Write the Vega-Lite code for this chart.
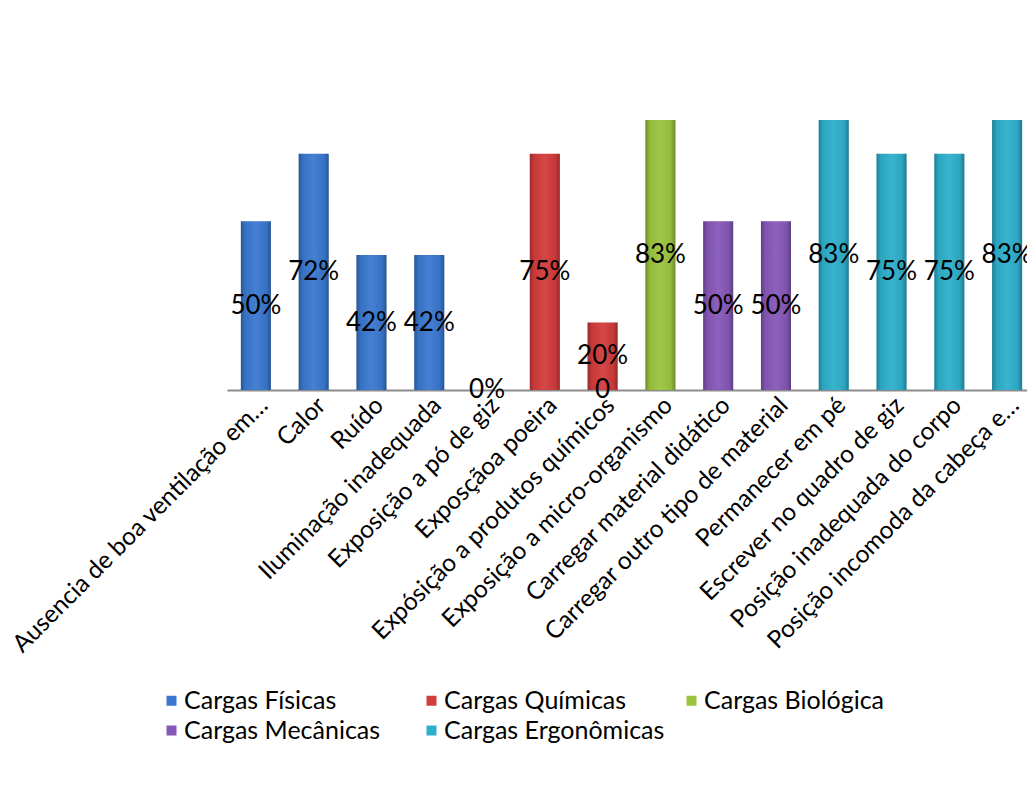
{
  "$schema": "https://vega.github.io/schema/vega-lite/v6.json",
  "autosize": {"type": "none"},
  "width": 800,
  "height": 270,
  "padding": {"left": 227, "top": 120, "right": 0, "bottom": 410},
  "background": "white",
  "config": {"view": {"stroke": null}, "font": "Lato"},
  "data": {
    "values": [
      {"item": "Ausencia de boa ventilação em…", "grupo": "Cargas Físicas", "valor": 5, "rotulo": "50%"},
      {"item": "Calor", "grupo": "Cargas Físicas", "valor": 7, "rotulo": "72%"},
      {"item": "Ruído", "grupo": "Cargas Físicas", "valor": 4, "rotulo": "42%"},
      {"item": "Iluminação inadequada", "grupo": "Cargas Físicas", "valor": 4, "rotulo": "42%"},
      {"item": "Exposição a pó de giz", "grupo": "Cargas Físicas", "valor": 0, "rotulo": "0%"},
      {"item": "Exposçãoa poeira", "grupo": "Cargas Químicas", "valor": 7, "rotulo": "75%"},
      {"item": "Expósição a produtos químicos", "grupo": "Cargas Químicas", "valor": 2, "rotulo": "20%", "extra": "0"},
      {"item": "Exposição a micro-organismo", "grupo": "Cargas Biológica", "valor": 8, "rotulo": "83%"},
      {"item": "Carregar material didático", "grupo": "Cargas Mecânicas", "valor": 5, "rotulo": "50%"},
      {"item": "Carregar outro tipo de material", "grupo": "Cargas Mecânicas", "valor": 5, "rotulo": "50%"},
      {"item": "Permanecer em pé", "grupo": "Cargas Ergonômicas", "valor": 8, "rotulo": "83%"},
      {"item": "Escrever no quadro de giz", "grupo": "Cargas Ergonômicas", "valor": 7, "rotulo": "75%"},
      {"item": "Posição inadequada do corpo", "grupo": "Cargas Ergonômicas", "valor": 7, "rotulo": "75%"},
      {"item": "Posição incomoda da cabeça e…", "grupo": "Cargas Ergonômicas", "valor": 8, "rotulo": "83%"}
    ]
  },
  "encoding": {
    "x": {
      "field": "item",
      "type": "nominal",
      "sort": null,
      "scale": {"range": [0, 809], "paddingInner": 0.48, "paddingOuter": 0.24},
      "axis": {
        "title": null,
        "labelAngle": -45,
        "labelFontSize": 24.5,
        "labelFont": "Lato",
        "labelColor": "black",
        "labelLimit": 500,
        "labelOverlap": false,
        "labelBound": false,
        "labelPadding": 3,
        "ticks": false,
        "domainColor": "#8c8c8c",
        "domainWidth": 2
      }
    }
  },
  "layer": [
    {
      "mark": {"type": "bar"},
      "encoding": {
        "y": {"field": "valor", "type": "quantitative", "scale": {"domain": [0, 8], "nice": false}, "axis": null},
        "color": {
          "field": "grupo",
          "type": "nominal",
          "scale": {
            "domain": ["Cargas Físicas", "Cargas Químicas", "Cargas Biológica", "Cargas Mecânicas", "Cargas Ergonômicas"],
            "range": ["#3a78cf", "#d23c3c", "#9bc43e", "#8658b8", "#2eafcb"]
          },
          "legend": {
            "title": null,
            "orient": "none",
            "direction": "horizontal",
            "legendX": -68,
            "legendY": 568,
            "columns": 3,
            "gridAlign": "all",
            "columnPadding": 14,
            "rowPadding": 4,
            "symbolType": "square",
            "symbolSize": 100,
            "symbolStrokeWidth": 0,
            "labelFontSize": 25,
            "labelFont": "Lato",
            "labelColor": "black",
            "labelOffset": 0,
            "labelLimit": 400
          }
        }
      }
    },
    {
      "mark": {
        "type": "bar",
        "fill": {
          "gradient": "linear",
          "x1": 0, "x2": 1, "y1": 0, "y2": 0,
          "stops": [
            {"offset": 0, "color": "rgba(0,0,0,0.28)"},
            {"offset": 0.15, "color": "rgba(0,0,0,0.05)"},
            {"offset": 0.5, "color": "rgba(255,255,255,0.06)"},
            {"offset": 0.85, "color": "rgba(0,0,0,0.05)"},
            {"offset": 1, "color": "rgba(0,0,0,0.3)"}
          ]
        }
      },
      "encoding": {
        "y": {"field": "valor", "type": "quantitative", "scale": {"domain": [0, 8], "nice": false}, "axis": null}
      }
    },
    {
      "mark": {"type": "text", "fontSize": 26, "font": "Lato", "color": "black", "baseline": "middle"},
      "encoding": {
        "y": {"field": "valor", "type": "quantitative", "scale": {"domain": [0, 16], "nice": false}, "axis": null},
        "text": {"field": "rotulo"}
      }
    },
    {
      "transform": [{"filter": "datum.extra != null"}],
      "mark": {"type": "text", "fontSize": 26, "font": "Lato", "color": "black", "baseline": "middle"},
      "encoding": {
        "y": {"datum": 0, "type": "quantitative", "scale": {"domain": [0, 8], "nice": false}, "axis": null},
        "text": {"field": "extra"}
      }
    }
  ],
  "resolve": {"scale": {"y": "independent"}}
}
